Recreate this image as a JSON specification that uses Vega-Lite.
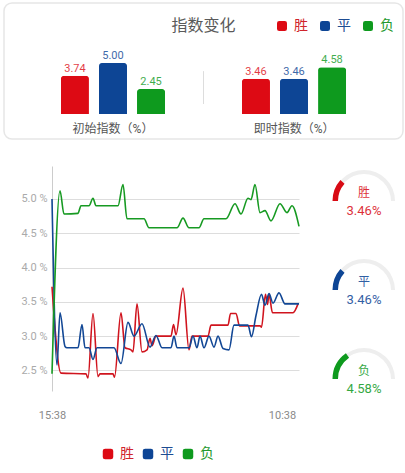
{
  "$schema": "https://vega.github.io/schema/vega-lite/v6.json",
  "padding": {"left": 3, "top": 2, "right": 0, "bottom": 0},
  "background": "white",
  "config": {
    "font": "Roboto, 'Noto Sans CJK SC', sans-serif",
    "view": {"stroke": null}
  },
  "resolve": {"scale": {"color": "independent"}, "legend": {"color": "independent"}},
  "spacing": 25,
  "vconcat": [
    {
      "width": 399,
      "height": 136,
      "view": {"stroke": "#e6e6e6", "strokeWidth": 1.5, "cornerRadius": 8, "fill": "#ffffff"},
      "layer": [
        {
          "data": {
            "values": [
              {"group": "初始指数（%）", "outcome": "胜", "value": 3.74},
              {"group": "初始指数（%）", "outcome": "平", "value": 5.00},
              {"group": "初始指数（%）", "outcome": "负", "value": 2.45},
              {"group": "即时指数（%）", "outcome": "胜", "value": 3.46},
              {"group": "即时指数（%）", "outcome": "平", "value": 3.46},
              {"group": "即时指数（%）", "outcome": "负", "value": 4.58}
            ]
          },
          "encoding": {
            "x": {
              "field": "group",
              "type": "nominal",
              "sort": ["初始指数（%）", "即时指数（%）"],
              "scale": {"paddingInner": 0.37, "paddingOuter": 0.287},
              "axis": {
                "title": null,
                "domain": false,
                "ticks": false,
                "labelAngle": 0,
                "labelFontSize": 12,
                "labelColor": "#555555",
                "offset": -25,
                "labelPadding": 9
              }
            },
            "xOffset": {
              "field": "outcome",
              "type": "nominal",
              "sort": ["胜", "平", "负"],
              "scale": {"paddingInner": 0.263, "paddingOuter": 0.13}
            },
            "y": {
              "field": "value",
              "type": "quantitative",
              "scale": {"domain": [-2.45, 10.88], "nice": false},
              "axis": null
            },
            "color": {
              "field": "outcome",
              "type": "nominal",
              "scale": {"domain": ["胜", "平", "负"], "range": ["#dd0a14", "#0d4595", "#0e9a1e"]},
              "legend": {
                "orient": "none",
                "legendX": 271,
                "legendY": 16,
                "direction": "horizontal",
                "columns": 3,
                "title": null,
                "symbolType": "M -0.55,-1 L 0.55,-1 Q 1,-1 1,-0.55 L 1,0.55 Q 1,1 0.55,1 L -0.55,1 Q -1,1 -1,0.55 L -1,-0.55 Q -1,-1 -0.55,-1 Z",
                "symbolSize": 100,
                "symbolStrokeWidth": 0,
                "labelFontSize": 14,
                "labelOffset": 5,
                "columnPadding": 10,
                "encode": {
                  "labels": {
                    "update": {
                      "fill": {"signal": "datum.value === '胜' ? '#d0242c' : datum.value === '平' ? '#1d4c92' : '#23992d'"}
                    }
                  }
                }
              }
            }
          },
          "layer": [
            {"mark": {"type": "bar", "cornerRadiusTopLeft": 3, "cornerRadiusTopRight": 3}},
            {
              "mark": {"type": "text", "dy": -7, "fontSize": 11, "opacity": 0.8},
              "encoding": {"text": {"field": "value", "format": ".2f"}}
            }
          ]
        },
        {
          "data": {"values": [{"label": "指数变化"}]},
          "mark": {"type": "text", "fontSize": 16, "color": "#5a5a5a"},
          "encoding": {
            "y": {"datum": 8.63, "type": "quantitative"},
            "text": {"field": "label"}
          }
        },
        {
          "data": {"values": [{"label": "sep"}]},
          "mark": {"type": "rule", "color": "#dddddd", "strokeWidth": 1},
          "encoding": {
            "y": {"datum": 4.2, "type": "quantitative"},
            "y2": {"datum": 0.98}
          }
        }
      ]
    },
    {
      "spacing": 0,
      "resolve": {"scale": {"color": "independent"}, "legend": {"color": "independent"}},
      "hconcat": [
        {
          "width": 1,
          "height": 10,
          "data": {"values": [{"s": ""}]},
          "mark": {"type": "text"},
          "encoding": {"text": {"field": "s"}}
        },
        {
          "spacing": 22,
          "resolve": {"scale": {"color": "independent"}, "legend": {"color": "independent"}},
          "hconcat": [
            {
              "width": 247,
              "height": 225,
              "data": {
                "values": [
                  {"t": 0, "outcome": "胜", "value": 3.72},
                  {"t": 9, "outcome": "胜", "value": 2.46},
                  {"t": 34, "outcome": "胜", "value": 2.45},
                  {"t": 36, "outcome": "胜", "value": 2.39},
                  {"t": 41, "outcome": "胜", "value": 3.33},
                  {"t": 46, "outcome": "胜", "value": 2.41},
                  {"t": 48, "outcome": "胜", "value": 2.45},
                  {"t": 61, "outcome": "胜", "value": 2.45},
                  {"t": 62.5, "outcome": "胜", "value": 2.4},
                  {"t": 69, "outcome": "胜", "value": 3.34},
                  {"t": 73, "outcome": "胜", "value": 2.83},
                  {"t": 79, "outcome": "胜", "value": 2.8},
                  {"t": 81, "outcome": "胜", "value": 2.77},
                  {"t": 85, "outcome": "胜", "value": 3.47},
                  {"t": 90, "outcome": "胜", "value": 2.77},
                  {"t": 95, "outcome": "胜", "value": 2.8},
                  {"t": 98, "outcome": "胜", "value": 2.97},
                  {"t": 100, "outcome": "胜", "value": 2.86},
                  {"t": 104, "outcome": "胜", "value": 3.0},
                  {"t": 119, "outcome": "胜", "value": 3.0},
                  {"t": 121.5, "outcome": "胜", "value": 3.17},
                  {"t": 124, "outcome": "胜", "value": 3.02},
                  {"t": 131, "outcome": "胜", "value": 3.7},
                  {"t": 137, "outcome": "胜", "value": 2.8},
                  {"t": 140, "outcome": "胜", "value": 3.0},
                  {"t": 156, "outcome": "胜", "value": 3.0},
                  {"t": 159, "outcome": "胜", "value": 3.16},
                  {"t": 176, "outcome": "胜", "value": 3.16},
                  {"t": 178.5, "outcome": "胜", "value": 3.33},
                  {"t": 184, "outcome": "胜", "value": 3.33},
                  {"t": 187.5, "outcome": "胜", "value": 3.15},
                  {"t": 208, "outcome": "胜", "value": 3.15},
                  {"t": 209.5, "outcome": "胜", "value": 3.13},
                  {"t": 213.5, "outcome": "胜", "value": 3.61},
                  {"t": 215.5, "outcome": "胜", "value": 3.46},
                  {"t": 217, "outcome": "胜", "value": 3.61},
                  {"t": 220.5, "outcome": "胜", "value": 3.34},
                  {"t": 241, "outcome": "胜", "value": 3.34},
                  {"t": 246, "outcome": "胜", "value": 3.47},
                  {"t": 0, "outcome": "平", "value": 5.0},
                  {"t": 5, "outcome": "平", "value": 2.58},
                  {"t": 8, "outcome": "平", "value": 3.34},
                  {"t": 13, "outcome": "平", "value": 2.85},
                  {"t": 15, "outcome": "平", "value": 2.83},
                  {"t": 26, "outcome": "平", "value": 2.83},
                  {"t": 30, "outcome": "平", "value": 3.17},
                  {"t": 33, "outcome": "平", "value": 2.83},
                  {"t": 37, "outcome": "平", "value": 2.83},
                  {"t": 41, "outcome": "平", "value": 2.66},
                  {"t": 45, "outcome": "平", "value": 2.83},
                  {"t": 62, "outcome": "平", "value": 2.83},
                  {"t": 69, "outcome": "平", "value": 2.6},
                  {"t": 76, "outcome": "平", "value": 3.2},
                  {"t": 82, "outcome": "平", "value": 3.0},
                  {"t": 90, "outcome": "平", "value": 3.18},
                  {"t": 98, "outcome": "平", "value": 2.84},
                  {"t": 104, "outcome": "平", "value": 3.01},
                  {"t": 110, "outcome": "平", "value": 2.83},
                  {"t": 119, "outcome": "平", "value": 2.83},
                  {"t": 122, "outcome": "平", "value": 3.0},
                  {"t": 125, "outcome": "平", "value": 2.83},
                  {"t": 137, "outcome": "平", "value": 2.83},
                  {"t": 141, "outcome": "平", "value": 3.0},
                  {"t": 145, "outcome": "平", "value": 2.83},
                  {"t": 148, "outcome": "平", "value": 3.0},
                  {"t": 152, "outcome": "平", "value": 2.83},
                  {"t": 157, "outcome": "平", "value": 3.0},
                  {"t": 162, "outcome": "平", "value": 2.84},
                  {"t": 166, "outcome": "平", "value": 3.0},
                  {"t": 171, "outcome": "平", "value": 2.82},
                  {"t": 177, "outcome": "平", "value": 2.8},
                  {"t": 182, "outcome": "平", "value": 3.16},
                  {"t": 196, "outcome": "平", "value": 3.16},
                  {"t": 199.5, "outcome": "平", "value": 2.99},
                  {"t": 204, "outcome": "平", "value": 3.3},
                  {"t": 209.5, "outcome": "平", "value": 3.61},
                  {"t": 213, "outcome": "平", "value": 3.45},
                  {"t": 217, "outcome": "平", "value": 3.62},
                  {"t": 221, "outcome": "平", "value": 3.48},
                  {"t": 227, "outcome": "平", "value": 3.63},
                  {"t": 233, "outcome": "平", "value": 3.47},
                  {"t": 247, "outcome": "平", "value": 3.47},
                  {"t": 0, "outcome": "负", "value": 2.45},
                  {"t": 8, "outcome": "负", "value": 5.12},
                  {"t": 12, "outcome": "负", "value": 4.78},
                  {"t": 26, "outcome": "负", "value": 4.79},
                  {"t": 29, "outcome": "负", "value": 4.9},
                  {"t": 37, "outcome": "负", "value": 4.9},
                  {"t": 41, "outcome": "负", "value": 5.01},
                  {"t": 44, "outcome": "负", "value": 4.9},
                  {"t": 66, "outcome": "负", "value": 4.9},
                  {"t": 71, "outcome": "负", "value": 5.21},
                  {"t": 75, "outcome": "负", "value": 4.71},
                  {"t": 92, "outcome": "负", "value": 4.71},
                  {"t": 97, "outcome": "负", "value": 4.58},
                  {"t": 125, "outcome": "负", "value": 4.58},
                  {"t": 131, "outcome": "负", "value": 4.72},
                  {"t": 137, "outcome": "负", "value": 4.58},
                  {"t": 147, "outcome": "负", "value": 4.58},
                  {"t": 152, "outcome": "负", "value": 4.71},
                  {"t": 174, "outcome": "负", "value": 4.71},
                  {"t": 183, "outcome": "负", "value": 4.93},
                  {"t": 189, "outcome": "负", "value": 4.78},
                  {"t": 196, "outcome": "负", "value": 5.01},
                  {"t": 199, "outcome": "负", "value": 4.99},
                  {"t": 203, "outcome": "负", "value": 5.21},
                  {"t": 208, "outcome": "负", "value": 4.8},
                  {"t": 213, "outcome": "负", "value": 4.83},
                  {"t": 219, "outcome": "负", "value": 4.68},
                  {"t": 228, "outcome": "负", "value": 4.93},
                  {"t": 235, "outcome": "负", "value": 4.8},
                  {"t": 240, "outcome": "负", "value": 4.9},
                  {"t": 247, "outcome": "负", "value": 4.6}
                ]
              },
              "mark": {"type": "line", "interpolate": "monotone", "strokeWidth": 1.6},
              "encoding": {
                "x": {
                  "field": "t",
                  "type": "quantitative",
                  "scale": {"domain": [0, 247], "nice": false},
                  "axis": {
                    "title": null,
                    "values": [0, 230],
                    "labelExpr": "datum.value == 0 ? '15:38' : '10:38'",
                    "grid": false,
                    "domain": false,
                    "ticks": false,
                    "labelFlush": false,
                    "labelPadding": 18,
                    "labelFontSize": 11,
                    "labelColor": "#8a8a8a"
                  }
                },
                "y": {
                  "field": "value",
                  "type": "quantitative",
                  "scale": {"domain": [2.2, 5.48], "nice": false, "zero": false},
                  "axis": {
                    "title": null,
                    "values": [2.5, 3, 3.5, 4, 4.5, 5],
                    "labelExpr": "format(datum.value, '.1f') + ' %'",
                    "ticks": false,
                    "domainColor": "#cccccc",
                    "gridColor": "#dddddd",
                    "labelColor": "#aaaaaa",
                    "labelFontSize": 11,
                    "labelPadding": 5,
                    "minExtent": 47
                  }
                },
                "color": {
                  "field": "outcome",
                  "type": "nominal",
                  "sort": ["胜", "平", "负"],
                  "scale": {"domain": ["胜", "平", "负"], "range": ["#d0141e", "#124795", "#179a22"]},
                  "legend": {
                    "orient": "none",
                    "legendX": 49,
                    "legendY": 281,
                    "direction": "horizontal",
                    "columns": 3,
                    "title": null,
                    "symbolType": "M -0.55,-1 L 0.55,-1 Q 1,-1 1,-0.55 L 1,0.55 Q 1,1 0.55,1 L -0.55,1 Q -1,1 -1,0.55 L -1,-0.55 Q -1,-1 -0.55,-1 Z",
                    "symbolSize": 110,
                    "symbolStrokeWidth": 0,
                    "symbolOpacity": 1,
                    "labelFontSize": 14,
                    "labelOffset": 5,
                    "columnPadding": 7,
                    "encode": {
                      "symbols": {
                        "update": {
                          "fill": {"signal": "datum.value === '胜' ? '#dd0a14' : datum.value === '平' ? '#0d4595' : '#0e9a1e'"},
                          "stroke": {"value": "transparent"},
                          "opacity": {"value": 1}
                        }
                      },
                      "labels": {
                        "update": {
                          "fill": {"signal": "datum.value === '胜' ? '#d0242c' : datum.value === '平' ? '#1d4c92' : '#23992d'"}
                        }
                      }
                    }
                  }
                }
              }
            },
            {
              "width": 78,
              "height": 248,
              "data": {
                "values": [
                  {"outcome": "胜", "value": 3.46},
                  {"outcome": "平", "value": 3.46},
                  {"outcome": "负", "value": 4.58}
                ]
              },
              "encoding": {
                "y": {
                  "field": "outcome",
                  "type": "nominal",
                  "sort": ["胜", "平", "负"],
                  "scale": {"type": "point", "padding": 0.393},
                  "axis": null
                }
              },
              "layer": [
                {
                  "mark": {"type": "arc", "outerRadius": 31, "innerRadius": 27, "theta": -1.5708, "theta2": 1.5708, "color": "#eeeeee"}
                },
                {
                  "mark": {"type": "arc", "outerRadius": 31.5, "innerRadius": 26},
                  "encoding": {
                    "theta": {"field": "value", "type": "quantitative", "stack": null, "scale": {"domain": [0, 15], "range": [-1.5708, 1.5708]}},
                    "color": {
                      "field": "outcome",
                      "type": "nominal",
                      "scale": {"domain": ["胜", "平", "负"], "range": ["#d80a14", "#0d4595", "#0e9a1e"]},
                      "legend": null
                    }
                  }
                },
                {
                  "mark": {"type": "text", "dy": -8, "fontSize": 12, "opacity": 0.85},
                  "encoding": {
                    "text": {"field": "outcome"},
                    "color": {"field": "outcome", "type": "nominal", "legend": null}
                  }
                },
                {
                  "transform": [{"calculate": "format(datum.value, '.2f') + '%'", "as": "label"}],
                  "mark": {"type": "text", "dy": 10, "fontSize": 13, "opacity": 0.85},
                  "encoding": {
                    "text": {"field": "label"},
                    "color": {"field": "outcome", "type": "nominal", "legend": null}
                  }
                }
              ]
            }
          ]
        }
      ]
    }
  ]
}
